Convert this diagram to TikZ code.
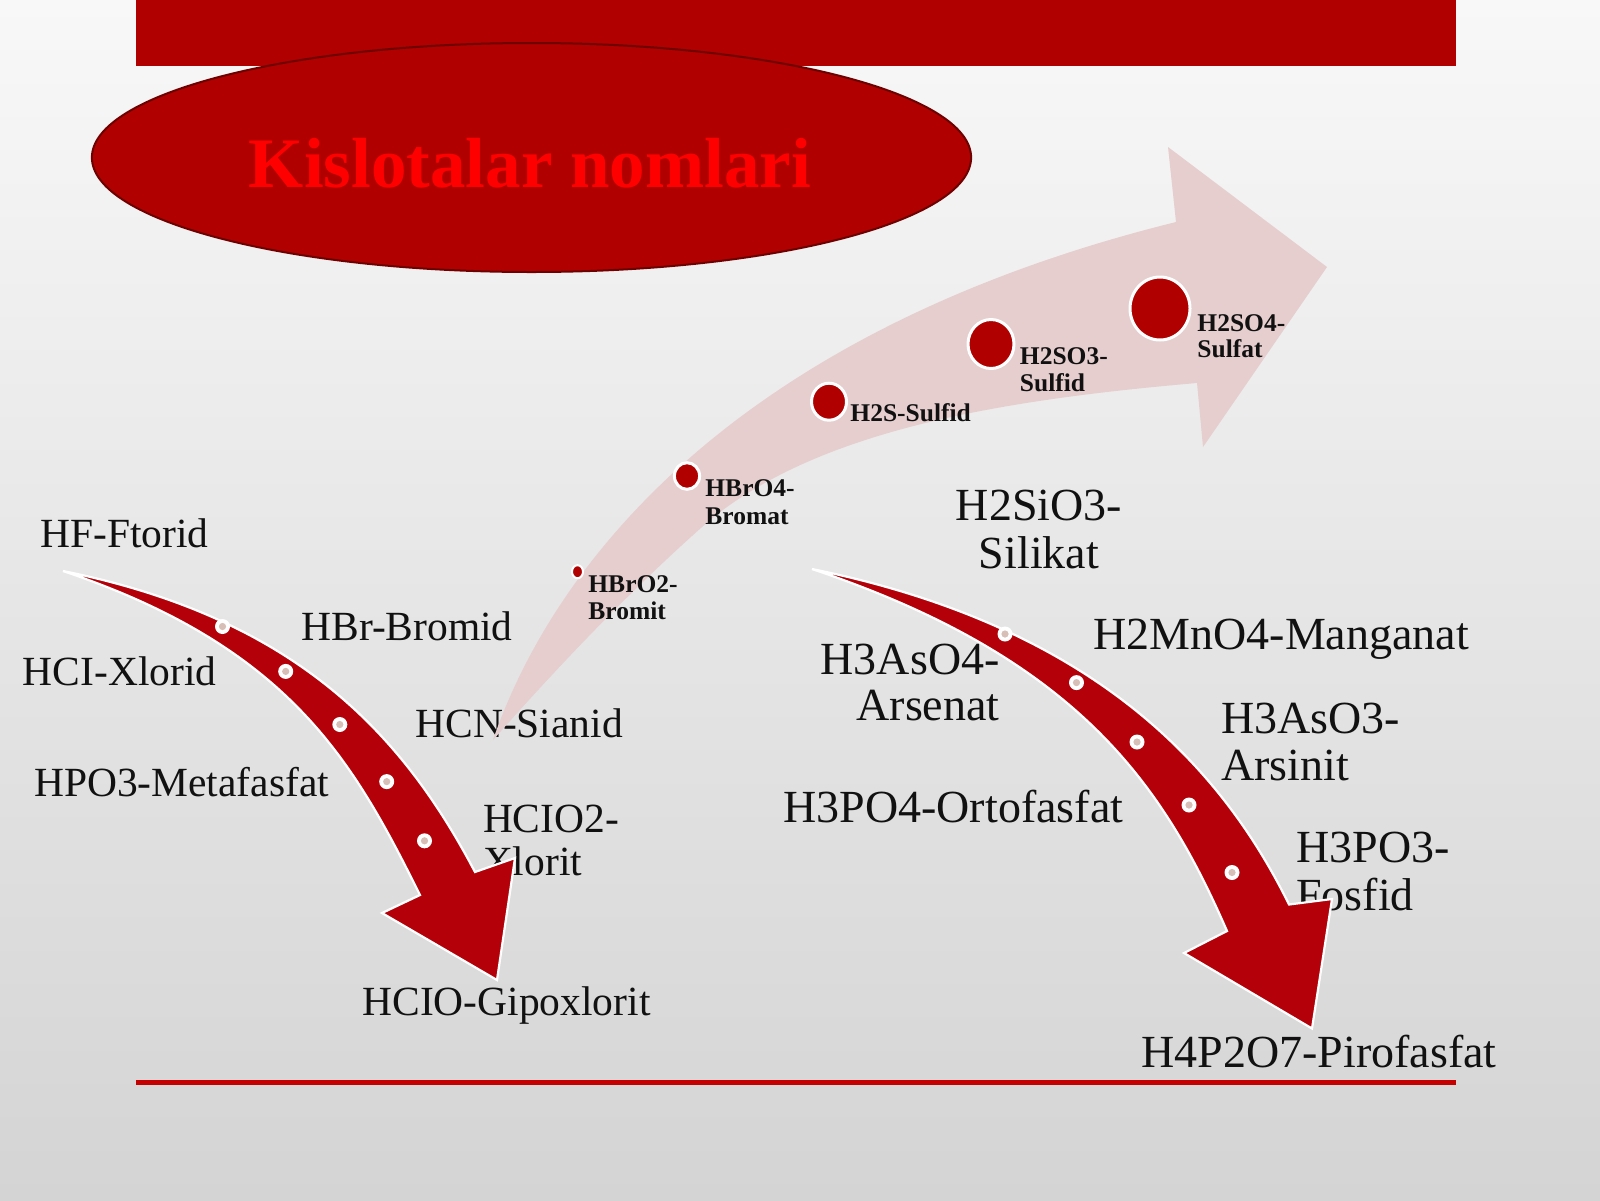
\documentclass[tikz,border=0pt]{standalone}
\usepackage{fontspec}
\setmainfont{Liberation Serif}
\definecolor{bannerred}{RGB}{176,0,0}
\definecolor{arrowred}{RGB}{180,0,8}
\definecolor{pinkarrow}{RGB}{230,206,206}
\definecolor{linered}{RGB}{196,0,0}
\definecolor{bgtop}{RGB}{248,248,248}
\definecolor{bgbot}{RGB}{212,212,212}
\definecolor{txt}{RGB}{17,17,17}
\definecolor{dotcore}{RGB}{215,190,182}
\definecolor{ellline}{RGB}{110,0,0}
\definecolor{titlered}{RGB}{255,0,0}
\begin{document}
\begin{tikzpicture}[x=0.5pt,y=-0.5pt,
  big/.style={font=\fontsize{20.75}{21.75}\selectfont, text=txt, inner sep=0, anchor=base west},
  bigr/.style={font=\fontsize{23}{23.75}\selectfont, text=txt, inner sep=0, anchor=base west},
  small/.style={font=\fontsize{12.75}{13.5}\selectfont\bfseries, text=txt, inner sep=0, anchor=base west},
  pdot/.style={fill=bannerred, draw=white, line width=1.5pt},
  rarrow/.style={fill=arrowred, draw=white, line width=1.1pt, line join=miter},
  rdot/.style={fill=white},
  rcore/.style={fill=dotcore},
]
\useasboundingbox (0,0) rectangle (1600,1200);
% background
\shade[top color=bgtop, bottom color=bgbot] (0,0) rectangle (1600,1200);
% banner
\fill[bannerred] (136,0) rectangle (1456,66);
% title ellipse
\draw[fill=bannerred, draw=ellline, line width=1pt] (531.5,157.5) ellipse [x radius=439.6, y radius=114.5];
\node[font=\fontsize{35.5}{40}\selectfont\bfseries, text=titlered, anchor=base, inner sep=0] (title) at (530,187) {Kislotalar nomlari};

% left group labels
\node[big] (hf) at (40,547) {HF-Ftorid};
\node[big] (hcl) at (22.4,685.7) {HCI-Xlorid};
\node[big] (hbr) at (301,640) {HBr-Bromid};
\node[big] (hcn) at (415,737) {HCN-Sianid};
\node[big] (hpo3) at (33.7,796) {HPO3-Metafasfat};
\node[big] (hclo2a) at (482.6,832) {HCIO2-};
\node[big] (hclo2b) at (482.6,875.5) {Xlorit};
\node[big] (hclo) at (362,1015) {HCIO-Gipoxlorit};

% right group labels
\node[bigr, anchor=base] (sia) at (1039,520) {H2SiO3-};
\node[bigr, anchor=base] (sib) at (1039,568) {Silikat};
\node[bigr] (mn) at (1093,649) {H2MnO4-Manganat};
\node[bigr, anchor=base east] (asoa) at (1000,674.5) {H3AsO4-};
\node[bigr, anchor=base east] (asob) at (1000,720) {Arsenat};
\node[bigr] (as3a) at (1221,733) {H3AsO3-};
\node[bigr] (as3b) at (1221,780) {Arsinit};
\node[bigr] (orto) at (783,822.5) {H3PO4-Ortofasfat};
\node[bigr] (fosa) at (1296,862) {H3PO3-};
\node[bigr] (fosb) at (1296,910) {Fosfid};
\node[bigr] (piro) at (1141,1067) {H4P2O7-Pirofasfat};

% pink arrow
\fill[pinkarrow] (493,740) .. controls (555,560) and (740,330) .. (1176,222)
  -- (1168,147) -- (1327,267) -- (1203,447) -- (1197,383)
  .. controls (1000,400) and (820,430) .. (710,520)
  .. controls (630,590) and (555,670) .. (493,740) -- cycle;

% pink arrow dots and labels
\draw[pdot, line width=1pt] (577.5,571.7) ellipse [x radius=5.5, y radius=6.5];
\draw[pdot] (687,476) ellipse [x radius=12.6, y radius=13.3];
\draw[pdot] (829,401.7) ellipse [x radius=17.5, y radius=18.5];
\draw[pdot] (991,344) ellipse [x radius=23, y radius=24.5];
\draw[pdot] (1160,308.5) ellipse [x radius=30, y radius=31.5];
\node[small] (bro2a) at (588,592.5) {HBrO2-};
\node[small] (bro2b) at (588,619) {Bromit};
\node[small] (bro4a) at (705,496) {HBrO4-};
\node[small] (bro4b) at (705,524) {Bromat};
\node[small] (h2s) at (850,421.5) {H2S-Sulfid};
\node[small] (so3a) at (1019.5,364) {H2SO3-};
\node[small] (so3b) at (1019.5,391.5) {Sulfid};
\node[small] (so4a) at (1197,331) {H2SO4-};
\node[small] (so4b) at (1197,357.5) {Sulfat};

% left red arrow
\fill[rarrow] (63,571) .. controls (299,618.5) and (404,737.3) .. (475,872)
  -- (515,858) -- (497,980) -- (382,913) -- (420,895)
  .. controls (354,762.7) and (291,647.5) .. (63,571) -- cycle;
\foreach \p in {(222.5,626.5),(285.7,671.4),(339.8,724.5),(386.7,781.6),(424.5,840.8)}{
  \fill[rdot] \p circle [radius=7.5];
  \fill[rcore] \p circle [radius=3.6];
}

% right red arrow
\fill[rarrow] (812,569) .. controls (1087,625) and (1218,760) .. (1289,904.5)
  -- (1332,899) -- (1312,1028.5) -- (1184,953) -- (1227,931)
  .. controls (1163.6,785.5) and (1078,658) .. (812,569) -- cycle;
\foreach \p in {(1005,634),(1076.5,682.6),(1137,742),(1189,805),(1232,872.5)}{
  \fill[rdot] \p circle [radius=7.5];
  \fill[rcore] \p circle [radius=3.6];
}

% bottom line
\fill[linered] (136,1080) rectangle (1456,1084.5);
\end{tikzpicture}
\end{document}
